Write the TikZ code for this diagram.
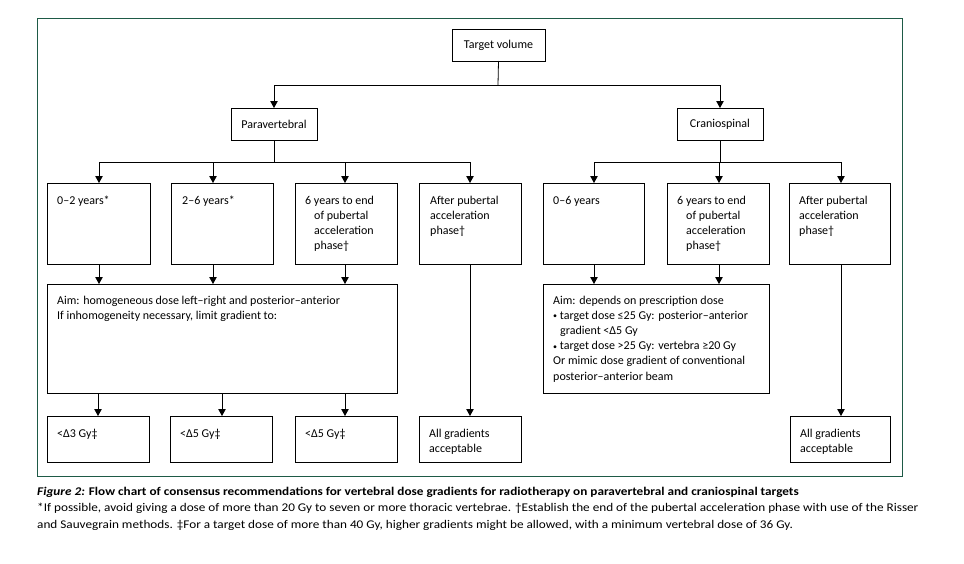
\documentclass[tikz,border=0pt]{standalone}
\usepackage{fontspec}
\setmainfont{Carlito}
\newfontfamily\capfam[FakeStretch=1.12]{Carlito}
\usetikzlibrary{arrows.meta}
\definecolor{framegreen}{HTML}{1E5A46}
\newcommand\bxf{\fontsize{12}{15.2}\selectfont}
\newcommand\capf{\capfam\fontsize{11.8}{16.5}\selectfont}
\newcommand\lns[1]{\parbox[t]{340pt}{\raggedright #1}}
\newcommand\smb{\raisebox{0.6pt}{\fontsize{8}{8}\selectfont •}}
\begin{document}
\begin{tikzpicture}[x=1pt,y=-1pt,
  box/.style={draw, line width=0.8pt, anchor=north west, inner sep=0pt, outer sep=0pt},
  txt/.style={anchor=base west, inner sep=0pt, font=\bxf},
  ctxt/.style={inner sep=0pt, font=\bxf},
  arr/.style={line width=0.8pt, -{Triangle[length=7pt,width=7.5pt]}},
  ln/.style={line width=0.8pt}]
\useasboundingbox (0,0) rectangle (964,563);
\fill[white] (0,0) rectangle (964,563);
% frame
\node[draw=framegreen, line width=1.1pt, anchor=north west, inner sep=0pt, minimum width=865pt, minimum height=458pt] (frame) at (37,18) {};

% top level
\node[box, minimum width=93pt, minimum height=32pt] (tv) at (452,29) {};
\node[ctxt] (tvt) at (tv.center) {Target volume};
\node[box, minimum width=86pt, minimum height=32pt] (pv) at (231,108) {};
\node[ctxt] (pvt) at (pv.center) {Paravertebral};
\node[box, minimum width=86pt, minimum height=32pt] (cs) at (677,108) {};
\node[ctxt] (cst) at (cs.center) {Craniospinal};

\coordinate (j0) at (498,85);
\coordinate (jl) at (274,85);
\coordinate (jr) at (720,85);
\draw[ln] (tv.south) -- (j0);
\draw[ln] (jl) -- (jr);
\draw[arr] (jl) -- (pv.north);
\draw[arr] (jr) -- (cs.north);

% row boxes
\node[box, minimum width=103pt, minimum height=81pt] (r1) at (47,183) {};
\node[box, minimum width=102pt, minimum height=81pt] (r2) at (171,183) {};
\node[box, minimum width=102pt, minimum height=81pt] (r3) at (295,183) {};
\node[box, minimum width=102pt, minimum height=81pt] (r4) at (419,183) {};
\node[box, minimum width=101pt, minimum height=81pt] (r5) at (543,183) {};
\node[box, minimum width=102pt, minimum height=81pt] (r6) at (667,183) {};
\node[box, minimum width=101pt, minimum height=81pt] (r7) at (789,183) {};

\node[txt] (r1t) at (57,204) {\lns{0–2 years*}};
\node[txt] (r2t) at (182,204) {\lns{2–6 years*}};
\node[txt] (r3t) at (305,204) {\lns{6 years to end\\\hspace*{9pt}of pubertal\\\hspace*{9pt}acceleration\\\hspace*{9pt}phase†}};
\node[txt] (r4t) at (430,204) {\lns{After pubertal\\acceleration\\phase†}};
\node[txt] (r5t) at (553,204) {\lns{0–6 years}};
\node[txt] (r6t) at (677,204) {\lns{6 years to end\\\hspace*{9pt}of pubertal\\\hspace*{9pt}acceleration\\\hspace*{9pt}phase†}};
\node[txt] (r7t) at (799,204) {\lns{After pubertal\\acceleration\\phase†}};

% paravertebral branch
\coordinate (pj) at (274,162);
\coordinate (p1) at (99,162);
\coordinate (p2) at (213,162);
\coordinate (p3) at (345,162);
\coordinate (p4) at (470,162);
\draw[ln] (pv.south) -- (pj);
\draw[ln] (p1) -- (p4);
\draw[arr] (p1) -- (p1 |- r1.north);
\draw[arr] (p2) -- (p2 |- r2.north);
\draw[arr] (p3) -- (p3 |- r3.north);
\draw[arr] (p4) -- (p4 |- r4.north);

% craniospinal branch
\coordinate (cj) at (720,162);
\coordinate (c1) at (594,162);
\coordinate (c2) at (719,162);
\coordinate (c3) at (841,162);
\draw[ln] (cs.south) -- (cj);
\draw[ln] (c1) -- (c3);
\draw[arr] (c1) -- (c1 |- r5.north);
\draw[arr] (c2) -- (c2 |- r6.north);
\draw[arr] (c3) -- (c3 |- r7.north);

% aim boxes
\node[box, minimum width=350pt, minimum height=109pt] (al) at (47,284) {};
\node[txt] (alt) at (57,304) {\lns{Aim: homogeneous dose left–right and posterior–anterior\\If inhomogeneity necessary, limit gradient to:}};
\node[box, minimum width=226pt, minimum height=109pt] (ar) at (543,284) {};
\node[txt] (art) at (553,304) {\lns{Aim: depends on prescription dose\\\smb\ target dose ≤25 Gy: posterior–anterior\\\hspace*{7pt}gradient <Δ5 Gy\\\smb\ target dose >25 Gy: vertebra ≥20 Gy\\Or mimic dose gradient of conventional\\posterior–anterior beam}};

\coordinate (a1) at (99,264);
\coordinate (a2) at (213,264);
\coordinate (a3) at (345,264);
\coordinate (a5) at (594,264);
\coordinate (a6) at (719,264);
\draw[arr] (a1) -- (a1 |- al.north);
\draw[arr] (a2) -- (a2 |- al.north);
\draw[arr] (a3) -- (a3 |- al.north);
\draw[arr] (a5) -- (a5 |- ar.north);
\draw[arr] (a6) -- (a6 |- ar.north);

% bottom boxes
\node[box, minimum width=102pt, minimum height=46pt] (b1) at (47,416) {};
\node[box, minimum width=102pt, minimum height=46pt] (b2) at (170,416) {};
\node[box, minimum width=102pt, minimum height=46pt] (b3) at (295,416) {};
\node[box, minimum width=102pt, minimum height=46pt] (b4) at (419,416) {};
\node[box, minimum width=100pt, minimum height=46pt] (b5) at (790,416) {};
\node[txt] (b1t) at (57,437) {\lns{<Δ3 Gy‡}};
\node[txt] (b2t) at (180,437) {\lns{<Δ5 Gy‡}};
\node[txt] (b3t) at (305,437) {\lns{<Δ5 Gy‡}};
\node[txt] (b4t) at (429,437) {\lns{All gradients\\acceptable}};
\node[txt] (b5t) at (800,437) {\lns{All gradients\\acceptable}};

\coordinate (d1) at (98,393);
\coordinate (d2) at (222,393);
\coordinate (d3) at (345,393);
\draw[arr] (d1) -- (d1 |- b1.north);
\draw[arr] (d2) -- (d2 |- b2.north);
\draw[arr] (d3) -- (d3 |- b3.north);
\coordinate (e4) at (470,264);
\coordinate (e7) at (841,264);
\draw[arr] (e4) -- (e4 |- b4.north);
\draw[arr] (e7) -- (e7 |- b5.north);

% caption
\node[anchor=base west, inner sep=0pt, font=\capf] (cap) at (37,495) {\parbox[t]{920pt}{\raggedright
\textbf{\textit{Figure 2:} Flow chart of consensus recommendations for vertebral dose gradients for radiotherapy on paravertebral and craniospinal targets}\\\relax
{*}If possible, avoid giving a dose of more than 20 Gy to seven or more thoracic vertebrae. †Establish the end of the pubertal acceleration phase with use of the Risser\\\relax
and Sauvegrain methods. ‡For a target dose of more than 40 Gy, higher gradients might be allowed, with a minimum vertebral dose of 36 Gy.}};
\end{tikzpicture}
\end{document}
